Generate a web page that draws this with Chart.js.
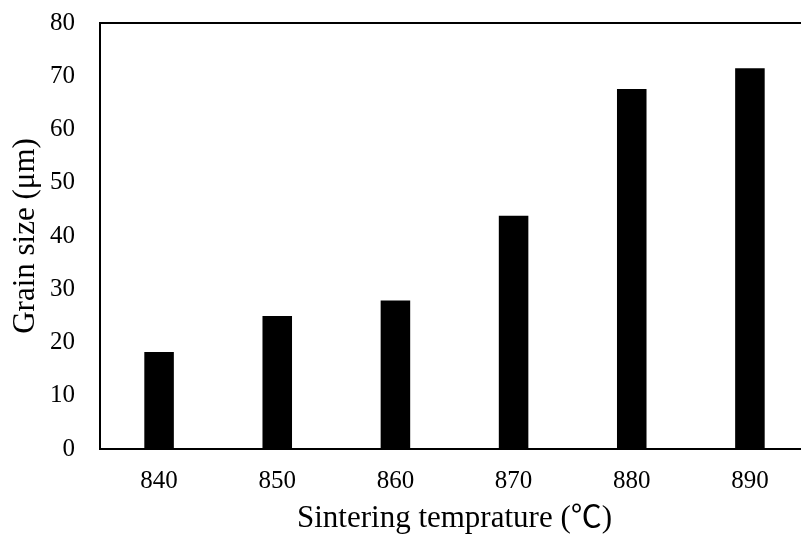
<!DOCTYPE html>
<html>
<head>
<meta charset="utf-8">
<script src="https://cdn.jsdelivr.net/npm/chart.js@4.4.1/dist/chart.umd.min.js"></script>
<style>
  html, body { margin: 0; padding: 0; background: #fff; overflow: hidden; }
  #wrap { position: relative; width: 801px; height: 539px; overflow: hidden; }
  #grain { position: absolute; left: 0; top: 0; }
</style>
</head>
<body>
<div id="wrap"><canvas id="grain" width="830" height="539"></canvas></div>
<script>
// sintering temperature vs grain size
var temps = ['840', '850', '860', '870', '880', '890'];
var grainSize = [18.2, 25.0, 27.9, 43.8, 67.6, 71.5];
var yTicks = [0, 10, 20, 30, 40, 50, 60, 70, 80];

var serif = "'Liberation Serif', 'Times New Roman', 'Noto Sans CJK SC', serif";

// box around the plot area (top and right sides)
var frame = {
  id: 'frame',
  afterDraw: function (chart) {
    var a = chart.chartArea, ctx = chart.ctx;
    ctx.save();
    ctx.strokeStyle = '#000';
    ctx.lineWidth = 2;
    ctx.strokeRect(a.left, a.top, a.right - a.left, a.bottom - a.top);
    ctx.restore();
  }
};

var ctx = document.getElementById('grain');
var chart = new Chart(ctx, {
  type: 'bar',
  data: {
    labels: temps,
    datasets: [{
      data: grainSize,
      backgroundColor: '#000',
      borderWidth: 0,
      barPercentage: 0.25,
      categoryPercentage: 1
    }]
  },
  options: {
    responsive: false,
    animation: false,
    layout: { padding: { left: 0, top: 23, right: 21, bottom: 0 } },
    plugins: { legend: { display: false }, tooltip: { enabled: false } },
    scales: {
      x: {
        grid: { display: false },
        border: { display: true, color: '#000', width: 2 },
        ticks: { color: '#000', padding: 9, font: { family: serif, size: 25 } },
        title: {
          display: true,
          text: 'Sintering temprature (℃)',
          color: '#000',
          font: { family: serif, size: 31 },
          padding: { top: 0, bottom: 2 }
        },
        afterFit: function (s) {
          s.height = 90;
          s.paddingLeft = 0;
          s.paddingRight = 0;
        }
      },
      y: {
        min: 0,
        max: 80,
        afterBuildTicks: function (s) { s.ticks = yTicks.map(function (v) { return { value: v }; }); },
        grid: { display: false },
        border: { display: true, color: '#000', width: 2 },
        ticks: { color: '#000', padding: 17, font: { family: serif, size: 25 } },
        title: {
          display: true,
          text: 'Grain size (μm)',
          color: '#000',
          font: { family: serif, size: 31 },
          padding: { top: 7, bottom: 0 }
        },
        afterFit: function (s) {
          s.width = 100;
          s.paddingTop = 0;
          s.paddingBottom = 0;
        }
      }
    }
  },
  plugins: [frame]
});
</script>
</body>
</html>
